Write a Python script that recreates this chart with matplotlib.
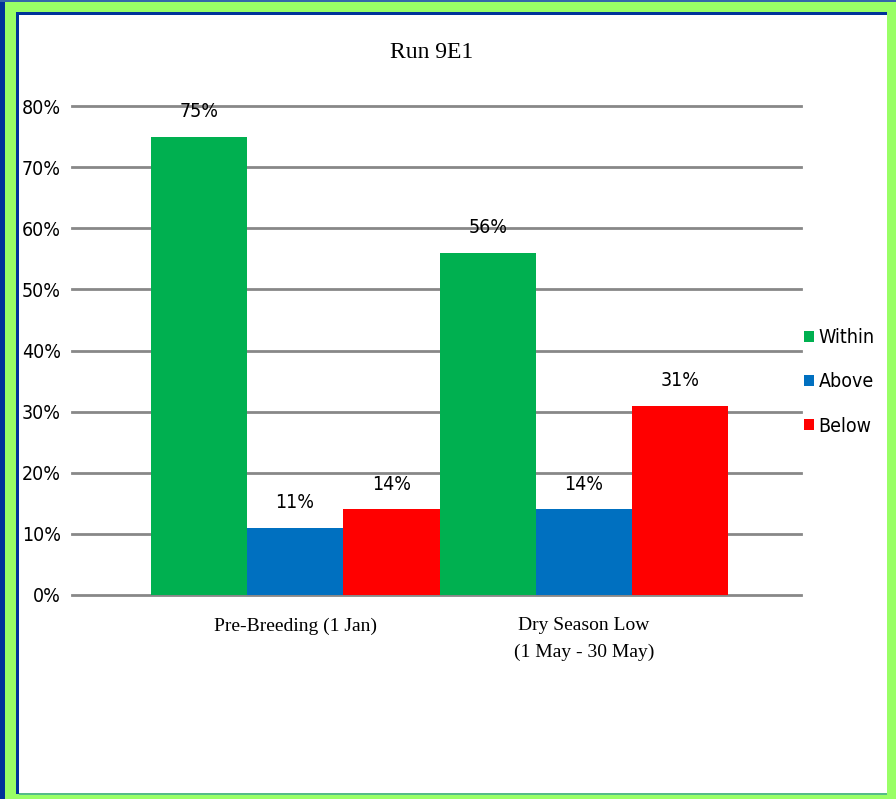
import matplotlib.pyplot as plt
import matplotlib.patches as mpatches
from matplotlib import font_manager
import numpy as np

categories = ['Pre-Breeding (1 Jan)', 'Dry Season Low\n(1 May - 30 May)']
series = ['Within', 'Above', 'Below']
within = [0.75, 0.56]
above = [0.11, 0.14]
below = [0.14, 0.31]
colors = ['#00B050', '#0070C0', '#FF0000']
yticks = [0, 0.1, 0.2, 0.3, 0.4, 0.5, 0.6, 0.7, 0.8]

W, H = 896, 799

# a regular condensed sans for the numbers, like the original's narrow font
cond = [f.fname for f in font_manager.fontManager.ttflist
        if ('ondensed' in f.fname or 'arrow' in f.fname)
        and not any(s in f.fname for s in ('Bold', 'Oblique', 'Italic', 'Mono', 'Serif'))]
if cond:
    narrow_prop = font_manager.FontProperties(fname=sorted(cond)[0])
else:
    narrow_prop = font_manager.FontProperties(family='Liberation Sans')
serif = ['Liberation Serif', 'DejaVu Serif']

fig = plt.figure(figsize=(W / 100, H / 100), dpi=100)
fig.patch.set_facecolor('#99FF66')

def px_rect(x0, y0, x1, y1, color, z):
    # pixel box (top-left origin) -> figure fraction rectangle
    fig.patches.append(mpatches.Rectangle((x0 / W, 1 - y1 / H), (x1 - x0) / W, (y1 - y0) / H,
                                          transform=fig.transFigure, facecolor=color,
                                          edgecolor='none', zorder=z))

px_rect(0, 0, 5, H, '#003399', -3)
px_rect(0, 0, W, 1.5, '#3366AA', -3)
px_rect(16, 12, 887, 794, '#003399', -2)
px_rect(19, 15, 887, 794, 'white', -1)
px_rect(19, 793, 887, 795, '#55BB88', -1)

ax = fig.add_axes([72 / W, 1 - 595 / H, (801 - 72) / W, (595 - 106) / H])
ax.set_facecolor('none')

def nprop(size):
    p = narrow_prop.copy()
    p.set_size(size)
    return p

x = np.arange(len(categories))
w = 1 / 3
vals = [within, above, below]
for i, (name, v) in enumerate(zip(series, vals)):
    bars = ax.bar(x + (i - 1) * w, v, width=w, color=colors[i], label=name, zorder=3)
    for b, val in zip(bars, v):
        ax.annotate('%d%%' % round(val * 100), (b.get_x() + b.get_width() / 2, val),
                    xytext=(0, 18), textcoords='offset points', ha='center', va='center',
                    fontproperties=nprop(14), zorder=4)

ax.set_xlim(-0.772, 1.751)
ax.set_ylim(0, 0.8)
ax.set_yticks(yticks)
ax.set_yticklabels(['%d%%' % round(t * 100) for t in yticks], fontproperties=nprop(14))
ax.set_xticks(x)
ax.set_xticklabels(categories, family=serif, fontsize=14, linespacing=1.7)
ax.tick_params(axis='both', length=0)
ax.tick_params(axis='y', pad=8)
ax.tick_params(axis='x', pad=16)
ax.grid(axis='y', color='#888888', linewidth=2, zorder=0)
for line in ax.get_ygridlines():
    line.set_clip_on(False)
for s in ax.spines.values():
    s.set_visible(False)

fig.text(432 / W, 1 - 52 / H, 'Run 9E1', family=serif, fontsize=17, ha='center', va='center')

fig.legend(loc='center left', bbox_to_anchor=(796 / W, 1 - 382 / H), frameon=False,
           prop=nprop(14), handlelength=0.5, handleheight=0.5,
           handletextpad=0.25, labelspacing=1.3, borderaxespad=0)

fig.savefig('out.png', dpi=100)
